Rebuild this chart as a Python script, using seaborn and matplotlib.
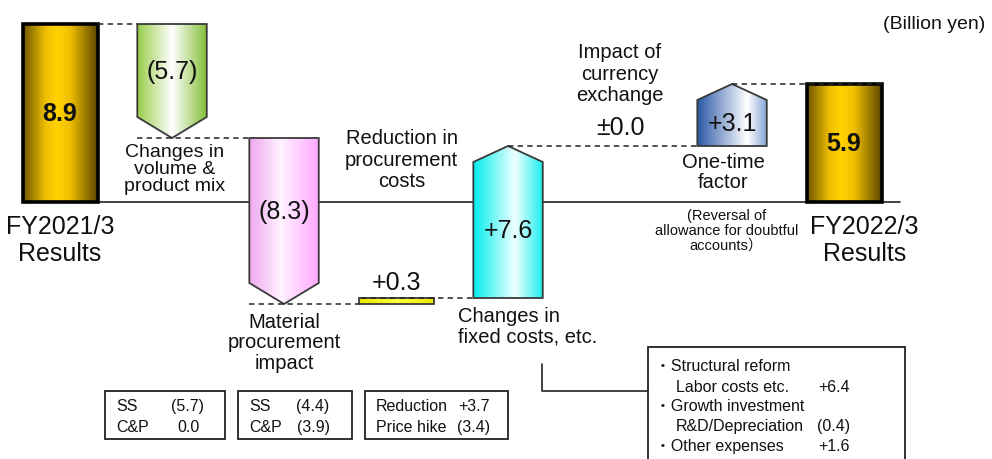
import numpy as np
import pandas as pd
import matplotlib
matplotlib.use("Agg")
import matplotlib.pyplot as plt
import seaborn as sns
from matplotlib.patches import Polygon, Rectangle
from matplotlib.colors import LinearSegmentedColormap

# ---- data -------------------------------------------------------------
categories = ["FY2021/3\nResults", "Changes in\nvolume &\nproduct mix",
              "Material\nprocurement\nimpact", "Reduction in\nprocurement\ncosts",
              "Changes in\nfixed costs, etc.", "Impact of\ncurrency\nexchange",
              "One-time\nfactor", "FY2022/3\nResults"]
step_values = [8.9, -5.7, -8.3, 0.3, 7.6, 0.0, 3.1, 5.9]
is_total = [True, False, False, False, False, False, False, True]

volume_items = ["SS", "C&P"]
volume_values = [-5.7, 0.0]
material_items = ["SS", "C&P"]
material_values = [-4.4, -3.9]
reduction_items = ["Reduction", "Price hike"]
reduction_values = [3.7, -3.4]
fixed_items = ["Structural reform", "Growth investment", "Other expenses"]
fixed_subitems = ["Labor costs etc.", "R&D/Depreciation", ""]
fixed_values = [6.4, -0.4, 1.6]
one_time_note = "(Reversal of\nallowance for doubtful\naccounts\uff09"
unit_label = "(Billion yen)"

# ---- styles -----------------------------------------------------------
fills = {
    "gold": [(0, "#6e5600"), (0.30, "#f0c000"), (0.45, "#ffd200"), (0.62, "#f0c000"), (1, "#584200")],
    "green": [(0, "#98cc48"), (0.5, "#ffffff"), (1, "#84c038")],
    "pink": [(0, "#eea6ee"), (0.45, "#fff2ff"), (1, "#ffa8ff")],
    "yellow": [(0, "#e8e800"), (0.5, "#ffff40"), (1, "#e8e800")],
    "cyan": [(0, "#00eeee"), (0.6, "#f0ffff"), (1, "#1ceeee")],
    "blue": [(0, "#2a58a6"), (0.72, "#ffffff"), (1, "#86a4d6")],
}
fill_of = ["gold", "green", "pink", "yellow", "cyan", None, "blue", "gold"]
BAR_W = 0.67
ARROW_W = 0.62
HEAD_DOWN, HEAD_UP = 1.05, 0.8

sns.set_theme(style="white")
plt.rcParams["font.family"] = ["Liberation Sans", "Noto Sans CJK JP", "DejaVu Sans"]
plt.rcParams["text.color"] = "#111111"


def cmap_of(name):
    return LinearSegmentedColormap.from_list(name, fills[name])


def paint(ax, patch, name, x0, x1, y0, y1, z):
    grad = np.linspace(0, 1, 256).reshape(1, -1)
    im = ax.imshow(grad, cmap=cmap_of(name), aspect="auto", origin="lower",
                   extent=(x0, x1, y0, y1), zorder=z, interpolation="bilinear")
    im.set_clip_path(patch)


def step_text(v, total):
    if total:
        return f"{v:.1f}"
    if abs(v) < 1e-9:
        return "\u00b10.0"
    return f"+{v:.1f}" if v > 0 else f"({abs(v):.1f})"


def box_text(v):
    if abs(v) < 1e-9:
        return "0.0"
    return f"+{v:.1f}" if v > 0 else f"({abs(v):.1f})"


# running levels of the waterfall
starts, ends = [], []
run = 0.0
for v, tot in zip(step_values, is_total):
    if tot:
        starts.append(0.0)
        ends.append(v)
        run = v
    else:
        starts.append(run)
        run = round(run + v, 6)
        ends.append(run)

fig = plt.figure(figsize=(9.92, 4.6), dpi=100)
ax = fig.add_axes([0, 0, 1, 1])

# ---- result bars (seaborn) ---------------------------------------------
totals = pd.DataFrame({
    "category": [c for c, t in zip(categories, is_total) if t],
    "value": [v for v, t in zip(step_values, is_total) if t],
})
sns.barplot(data=totals, x="category", y="value", order=categories,
            width=BAR_W, color="#ffcc00", errorbar=None, ax=ax)
for bar in list(ax.patches):
    bar.set_facecolor("none")
    bar.set_edgecolor("black")
    bar.set_linewidth(2.6)
    bar.set_zorder(3)
    x0, w, y0, h = bar.get_x(), bar.get_width(), bar.get_y(), bar.get_height()
    paint(ax, bar, "gold", x0, x0 + w, y0, y0 + h, 2)

# ---- step arrows --------------------------------------------------------
hw = ARROW_W / 2
for i, (v, tot) in enumerate(zip(step_values, is_total)):
    if tot or abs(v) < 1e-9:
        continue
    y0, y1 = starts[i], ends[i]
    if abs(v) > 1.0:
        head = HEAD_UP if v > 0 else HEAD_DOWN
        neck = y1 - np.sign(v) * head
        pts = [(i - hw, y0), (i + hw, y0), (i + hw, neck), (i, y1), (i - hw, neck)]
    else:
        pts = [(i - BAR_W / 2, y0), (i + BAR_W / 2, y0), (i + BAR_W / 2, y1), (i - BAR_W / 2, y1)]
    poly = Polygon(pts, closed=True, facecolor="none", edgecolor="#3a3a3a",
                   linewidth=1.3, zorder=3)
    ax.add_patch(poly)
    xs = [p[0] for p in pts]
    paint(ax, poly, fill_of[i], min(xs), max(xs), min(y0, y1), max(y0, y1), 2)

# ---- dashed connectors --------------------------------------------------
drawn = [i for i, v in enumerate(step_values) if abs(v) > 1e-9]
for a, b in zip(drawn[:-1], drawn[1:]):
    va = step_values[a]
    if is_total[a]:
        xa = a + BAR_W / 2
    elif va > 1.0:
        xa = a
    else:
        xa = a - hw
    xb = b + BAR_W / 2 if is_total[b] else b - (BAR_W / 2 if abs(step_values[b]) <= 1.0 else hw)
    ax.plot([xa, xb], [ends[a], ends[a]], color="#222222", lw=1.1,
            ls=(0, (3.5, 2.8)), zorder=5)

# baseline
ax.plot([-BAR_W / 2, 7.5], [0, 0], color="#222222", lw=1.2, zorder=1)

# ---- value labels -------------------------------------------------------
for i, (v, tot) in enumerate(zip(step_values, is_total)):
    txt = step_text(v, tot)
    if tot:
        ax.text(i, ends[i] / 2, txt, ha="center", va="center", fontsize=18,
                fontweight="bold", zorder=6)
    elif abs(v) < 1e-9:
        ax.text(i, ends[i] + 0.35, txt, ha="center", va="bottom", fontsize=18, zorder=6)
    elif abs(v) <= 1.0:
        ax.text(i, ends[i] + 0.2, txt, ha="center", va="bottom", fontsize=18, zorder=6)
    else:
        head = HEAD_UP if v > 0 else HEAD_DOWN
        neck = ends[i] - np.sign(v) * head
        ax.text(i, (starts[i] + neck) / 2, txt, ha="center", va="center",
                fontsize=18, zorder=6)

# ---- category labels ----------------------------------------------------
lab = dict(color="#111111", zorder=6)
ax.text(0, -0.6, categories[0], ha="center", va="top", fontsize=18, linespacing=1.15, **lab)
ax.text(7.18, -0.6, categories[7], ha="center", va="top", fontsize=18, linespacing=1.15, **lab)
ax.text(1.02, ends[1] - 0.25, categories[1], ha="center", va="top", fontsize=14,
        linespacing=1.0, **lab)
ax.text(2, ends[2] - 0.4, categories[2], ha="center", va="top", fontsize=14.5,
        linespacing=1.1, **lab)
ax.text(3.05, 0.6, categories[3], ha="center", va="bottom", fontsize=14.5,
        linespacing=1.15, **lab)
ax.text(3.55, ends[4] - 7.6 - 0.4, categories[4], ha="left", va="top", fontsize=14.5,
        linespacing=1.1, **lab)
ax.text(5.0, ends[5] + 2.1, categories[5], ha="center", va="bottom", fontsize=14.5,
        linespacing=1.15, **lab)
ax.text(5.92, starts[6] - 0.3, categories[6], ha="center", va="top", fontsize=14.5,
        linespacing=1.05, **lab)
ax.text(5.95, -0.3, one_time_note, ha="center", va="top", fontsize=10.5,
        linespacing=1.05, **lab)
ax.text(0.993, 0.965, unit_label, transform=ax.transAxes, ha="right", va="top",
        fontsize=14, **lab)

# ---- breakdown boxes ----------------------------------------------------
W, H = 992.0, 460.0


def frac(px, py):
    return px / W, 1 - py / H


def breakdown_box(left, right, top, bottom, items, values, val_x):
    x0, y1 = frac(left, top)
    x1, y0 = frac(right, bottom)
    ax.add_patch(Rectangle((x0, y0), x1 - x0, y1 - y0, transform=ax.transAxes,
                           facecolor="white", edgecolor="#222222", lw=1.3,
                           zorder=6, clip_on=False))
    for k, (name, v) in enumerate(zip(items, values)):
        ty = top + 15 + k * 21
        ax.text(*frac(left + 11, ty), name, transform=ax.transAxes, ha="left",
                va="center", fontsize=11.5, zorder=7)
        ax.text(*frac(val_x, ty), box_text(v), transform=ax.transAxes,
                ha="center", va="center", fontsize=11.5, zorder=7)


BOX_TOP, BOX_BOTTOM = 392, 440
breakdown_box(105, 225, BOX_TOP, BOX_BOTTOM, volume_items, volume_values, 188)
breakdown_box(238, 352, BOX_TOP, BOX_BOTTOM, material_items, material_values, 313)
breakdown_box(365, 508, BOX_TOP, BOX_BOTTOM, reduction_items, reduction_values, 474)

# fixed-cost breakdown, linked to its arrow label
rx0, ry1 = frac(648, 348)
rx1, ry0 = frac(905, 475)
ax.add_patch(Rectangle((rx0, ry0), rx1 - rx0, ry1 - ry0, transform=ax.transAxes,
                       facecolor="white", edgecolor="#222222", lw=1.3, zorder=6,
                       clip_on=False))
lx, ly_top = frac(542, 365)
_, ly_bot = frac(542, 392)
ax.plot([lx, lx, rx0], [ly_top, ly_bot, ly_bot], transform=ax.transAxes,
        color="#222222", lw=1.2, zorder=6)
row = 367
for name, sub, v in zip(fixed_items, fixed_subitems, fixed_values):
    ax.text(*frac(655, row), "\u30fb" + name, transform=ax.transAxes, ha="left",
            va="center", fontsize=11.5, zorder=7)
    if sub:
        row += 20
        ax.text(*frac(676, row), sub, transform=ax.transAxes, ha="left",
                va="center", fontsize=11.5, zorder=7)
    ax.text(*frac(834, row), box_text(v), transform=ax.transAxes, ha="center",
            va="center", fontsize=11.5, zorder=7)
    row += 20

ax.set_xlim(-0.536, 8.321)
ax.set_ylim(-12.85, 10.15)
ax.axis("off")
fig.savefig("out.png", dpi=100, facecolor="white")
